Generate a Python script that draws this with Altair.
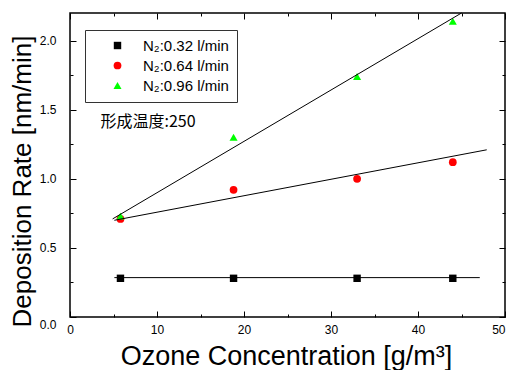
import altair as alt
import pandas as pd

# ---- data ----
series_names = ["N₂:0.32 l/min", "N₂:0.64 l/min", "N₂:0.96 l/min"]
series_colors = ["#000000", "#ff0000", "#00ff00"]
series_shapes = ["square", "circle", "triangle-up"]
series_sizes = [55, 65, 95]

ozone_conc = [5.8, 18.8, 33.0, 44.0]
rate_032 = [0.28, 0.28, 0.28, 0.28]
rate_064 = [0.71, 0.92, 1.00, 1.12]
rate_096 = [0.73, 1.30, 1.74, 2.14]

fit_x_032 = [5.1, 47.1]
fit_y_032 = [0.285, 0.285]
fit_x_064 = [5.1, 47.9]
fit_y_064 = [0.70, 1.21]
fit_x_096 = [4.9, 45.0]
fit_y_096 = [0.71, 2.20]

annot_text = ["形成温度:250"]
annot_x = [3.5]
annot_y = [1.41]

x_major = [0, 10, 20, 30, 40, 50]
x_all_ticks = [0, 5, 10, 15, 20, 25, 30, 35, 40, 45, 50]
y_major = [0.0, 0.5, 1.0, 1.5, 2.0]
y_all_ticks = [0.0, 0.25, 0.5, 0.75, 1.0, 1.25, 1.5, 1.75, 2.0]

W, H = 435, 304

pts = pd.DataFrame({
    "series": [series_names[0]] * 4 + [series_names[1]] * 4 + [series_names[2]] * 4,
    "x": ozone_conc * 3,
    "y": rate_032 + rate_064 + rate_096,
})
fits = pd.DataFrame({
    "series": [series_names[0]] * 2 + [series_names[1]] * 2 + [series_names[2]] * 2,
    "x": fit_x_032 + fit_x_064 + fit_x_096,
    "y": fit_y_032 + fit_y_064 + fit_y_096,
})
annot = pd.DataFrame({"t": annot_text, "x": annot_x, "y": annot_y})

xs = alt.Scale(domain=[0, 50], nice=False, zero=False)
ys = alt.Scale(domain=[0, 2.2], nice=False, zero=False)

x_tick_size = {"condition": {"test": "datum.value % 10 === 0", "value": 6}, "value": 3}
y_tick_size = {"condition": {"test": "abs(datum.value*2 - round(datum.value*2)) < 1e-6", "value": 6}, "value": 3}
y_zero_label_offset = {"condition": {"test": "datum.value === 0", "value": 7}, "value": 0}
x_last_label_align = {"condition": {"test": "datum.value === 50", "value": "right"}, "value": "center"}

font = "Liberation Sans"

# main axes with labels & titles
x_main = alt.Axis(values=x_major, ticks=False, domain=False, grid=False, labelPadding=7,
                  labelFlush=False, labelOverlap=False, labelAlign=x_last_label_align,
                  labelFontSize=12, labelFont=font, labelColor="#000",
                  title="Ozone Concentration [g/m³]", titleFont=font, titleFontSize=27,
                  titleFontWeight="normal", titleColor="#000",
                  titleX=216, titleY=47, titleBaseline="alphabetic", titleAlign="center")
y_main = alt.Axis(values=y_major, ticks=False, domain=False, grid=False, labelPadding=14,
                  labelFlush=False, labelOverlap=False, labelOffset=y_zero_label_offset,
                  labelFontSize=12, labelFont=font, labelColor="#000", format=".1f",
                  title="Deposition Rate [nm/min]", titleFont=font, titleFontSize=26,
                  titleFontWeight="normal", titleColor="#000", titleAngle=270,
                  titleX=-40, titleY=168, titleBaseline="alphabetic", titleAlign="center")

# inward tick axes
x_ticks_bottom = alt.Axis(orient="top", offset=-H, values=x_all_ticks, labels=False, domain=False,
                          grid=False, title=None, tickSize=x_tick_size, tickColor="#000", tickWidth=1)
x_ticks_top = alt.Axis(orient="bottom", offset=-H, values=x_all_ticks, labels=False, domain=False,
                       grid=False, title=None, tickSize=x_tick_size, tickColor="#000", tickWidth=1)
y_ticks_left = alt.Axis(orient="right", offset=-W, values=y_all_ticks, labels=False, domain=False,
                        grid=False, title=None, tickSize=y_tick_size, tickColor="#000", tickWidth=1)
y_ticks_right = alt.Axis(orient="left", offset=-W, values=y_all_ticks, labels=False, domain=False,
                         grid=False, title=None, tickSize=y_tick_size, tickColor="#000", tickWidth=1)

legend = alt.Legend(orient="none", legendX=15, legendY=17, title=None,
                    strokeColor="#333", fillColor="white", padding=8,
                    labelFont=font, labelFontSize=15, labelColor="#000",
                    symbolOffset=17, labelOffset=18,
                    rowPadding=4, symbolOpacity=1, symbolStrokeWidth=0)

points = alt.Chart(pts).mark_point(filled=True, opacity=1).encode(
    x=alt.X("x:Q", scale=xs, axis=x_main),
    y=alt.Y("y:Q", scale=ys, axis=y_main),
    color=alt.Color("series:N", scale=alt.Scale(domain=series_names, range=series_colors), legend=legend),
    shape=alt.Shape("series:N", scale=alt.Scale(domain=series_names, range=series_shapes), legend=legend),
    size=alt.Size("series:N", scale=alt.Scale(domain=series_names, range=series_sizes), legend=legend),
)

lines = alt.Chart(fits).mark_line(color="black", strokeWidth=1).encode(
    x=alt.X("x:Q", scale=xs, axis=x_ticks_bottom),
    y=alt.Y("y:Q", scale=ys, axis=y_ticks_left),
    detail="series:N",
)

text = alt.Chart(annot).mark_text(align="left", baseline="middle", font="Noto Sans CJK JP",
                                  fontSize=16, color="#000").encode(
    x=alt.X("x:Q", scale=xs, axis=x_ticks_top),
    y=alt.Y("y:Q", scale=ys, axis=y_ticks_right),
    text="t:N",
)

chart = alt.layer(points, lines, text).resolve_axis(x="independent", y="independent").properties(
    width=W, height=H,
    autosize=alt.AutoSizeParams(type="none"),
    padding={"left": 62, "top": 5, "right": 1, "bottom": 53},
    background="white",
).configure_view(stroke="black", strokeWidth=1.5)

chart.save("out.html", embed_options={"renderer": "svg", "actions": False})
